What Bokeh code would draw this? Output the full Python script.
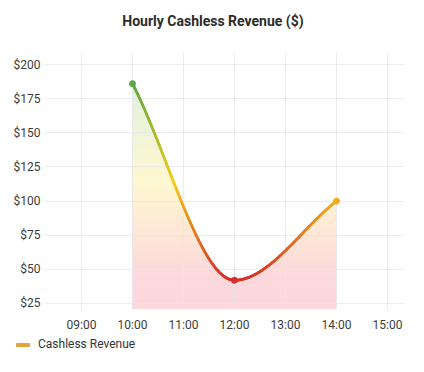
import numpy as np
from bokeh.plotting import figure
from bokeh.layouts import column
from bokeh.models import ColumnDataSource, FixedTicker, Range1d, Div
from bokeh.embed import file_html
from bokeh.resources import INLINE

# ---- data ----
hours = [10, 12, 14]                      # hour of day
revenue = [186, 42, 100]                  # $ per hour
x_tick_values = [9, 10, 11, 12, 13, 14, 15]
x_tick_labels = ["09:00", "10:00", "11:00", "12:00", "13:00", "14:00", "15:00"]
y_tick_values = [25, 50, 75, 100, 125, 150, 175, 200]
y_tick_labels = ["$25", "$50", "$75", "$100", "$125", "$150", "$175", "$200"]
series_name = "Cashless Revenue"
title_text = "Hourly Cashless Revenue ($)"

# ---- colour scheme (red -> yellow -> green by value) ----
LINE_STOPS = [(215, 48, 42), (245, 205, 25), (87, 168, 68)]
FILL_STOPS = [(242, 73, 92), (250, 222, 42), (115, 191, 105)]
FILL_ALPHA = 0.22
LEGEND_COLOR = "#E5A23A"
vmin, vmax = min(revenue), max(revenue)
FONT = "Roboto"
W = 420


def scheme(v, stops, alpha=1.0):
    t = float(np.clip((v - vmin) / (vmax - vmin), 0, 1))
    if t <= 0.5:
        a, b, f = stops[0], stops[1], t / 0.5
    else:
        a, b, f = stops[1], stops[2], (t - 0.5) / 0.5
    c = [a[i] + (b[i] - a[i]) * f for i in range(3)]
    c = [255 - alpha * (255 - ci) for ci in c]   # premix with white
    return "#%02x%02x%02x" % tuple(int(round(ci)) for ci in c)


# ---- monotone cubic (Fritsch-Carlson) smoothing for drawing ----
def monotone(xs, ys, n=400):
    xs = np.asarray(xs, float)
    ys = np.asarray(ys, float)
    h = np.diff(xs)
    d = np.diff(ys) / h
    m = np.zeros_like(ys)
    m[0], m[-1] = d[0], d[-1]
    for i in range(1, len(xs) - 1):
        if d[i - 1] * d[i] <= 0:
            m[i] = 0
        else:
            w1 = 2 * h[i] + h[i - 1]
            w2 = h[i] + 2 * h[i - 1]
            m[i] = (w1 + w2) / (w1 / d[i - 1] + w2 / d[i])
    X = np.linspace(xs[0], xs[-1], n)
    Y = np.empty_like(X)
    for j, x in enumerate(X):
        k = min(np.searchsorted(xs, x, side="right") - 1, len(xs) - 2)
        t = (x - xs[k]) / h[k]
        h00 = 2 * t**3 - 3 * t**2 + 1
        h10 = t**3 - 2 * t**2 + t
        h01 = -2 * t**3 + 3 * t**2
        h11 = t**3 - t**2
        Y[j] = h00 * ys[k] + h10 * h[k] * m[k] + h01 * ys[k + 1] + h11 * h[k] * m[k + 1]
    return X, Y


sx, sy = monotone(hours, revenue)

# ---- title strip ----
title_html = (
    '<div style="width:%dpx;height:36px;box-sizing:border-box;padding-top:13px;'
    'padding-left:6px;text-align:center;line-height:16px;font-family:Roboto,sans-serif;'
    'font-size:14px;font-weight:bold;color:#2b2b2b;">%s</div>' % (W, title_text)
)
title_div = Div(text=title_html, width=W, height=36, margin=0)

p = figure(frame_width=360, frame_height=257, output_backend="svg",
           toolbar_location=None,
           x_range=Range1d(8.275, 15.333), y_range=Range1d(20.6, 208.8),
           min_border_left=44, min_border_right=16, min_border_top=16,
           min_border_bottom=24)
p.background_fill_color = "white"
p.border_fill_color = "white"
p.outline_line_color = None

# ---- gradient fill as horizontal bands ----
nb = 90
edges = np.linspace(p.y_range.start, vmax + 1, nb + 1)
for lo, hi in zip(edges[:-1], edges[1:]):
    col = scheme((lo + hi) / 2, FILL_STOPS, FILL_ALPHA)
    r = p.varea(x=sx, y1=np.full_like(sy, lo), y2=np.clip(sy, lo, hi + 0.4),
                fill_color=col, fill_alpha=1.0)
    r.level = "image"

# ---- gradient line as segments ----
mids = (sy[:-1] + sy[1:]) / 2
seg = ColumnDataSource(dict(x0=sx[:-1], y0=sy[:-1], x1=sx[1:], y1=sy[1:],
                            c=[scheme(v, LINE_STOPS) for v in mids]))
p.segment("x0", "y0", "x1", "y1", source=seg, line_color="c", line_width=2.6,
          line_cap="round")

pts = ColumnDataSource(dict(x=hours, y=revenue,
                            c=[scheme(v, LINE_STOPS) for v in revenue]))
p.scatter("x", "y", source=pts, size=6, fill_color="c", line_color="c")

# ---- axes ----
p.xaxis.ticker = FixedTicker(ticks=x_tick_values)
p.xaxis.major_label_overrides = dict(zip(x_tick_values, x_tick_labels))
p.yaxis.ticker = FixedTicker(ticks=y_tick_values)
p.yaxis.major_label_overrides = dict(zip(y_tick_values, y_tick_labels))
for ax in (p.xaxis, p.yaxis):
    ax.axis_line_color = None
    ax.major_tick_line_color = None
    ax.minor_tick_line_color = None
    ax.major_tick_out = 0
    ax.major_tick_in = 0
    ax.minor_tick_out = 0
    ax.minor_tick_in = 0
    ax.major_label_text_font = FONT
    ax.major_label_text_font_size = "12px"
    ax.major_label_text_color = "#3c3c3c"
p.yaxis.major_label_standoff = 4
p.xaxis.major_label_standoff = 8

p.xgrid.ticker = FixedTicker(ticks=x_tick_values)
p.ygrid.ticker = FixedTicker(ticks=y_tick_values)
p.grid.grid_line_color = "#e6e6ee"
p.grid.grid_line_alpha = 0.8

# ---- legend strip below the chart ----
legend_html = (
    '<div style="display:flex;align-items:center;height:22px;padding-left:16px;'
    'font-family:Roboto,sans-serif;font-size:12px;color:#333333;">'
    '<span style="display:inline-block;width:14px;height:4px;border-radius:1px;'
    'background:%s;margin-right:8px;"></span>%s</div>' % (LEGEND_COLOR, series_name)
)
legend_div = Div(text=legend_html, width=W, height=30, margin=0)

layout = column(title_div, p, legend_div, spacing=0)
open("out.html", "w").write(file_html(layout, INLINE))
